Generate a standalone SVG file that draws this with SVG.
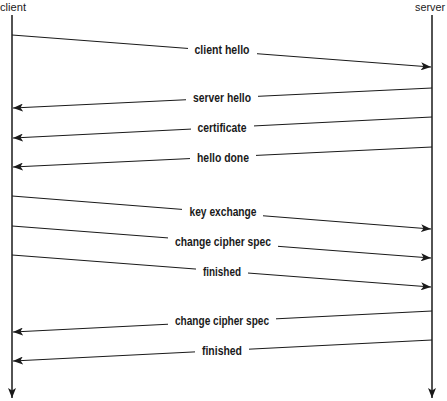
<svg xmlns="http://www.w3.org/2000/svg" width="447" height="401" viewBox="0 0 447 401">
<defs>
<marker id="ah" viewBox="0 0 10 8" refX="10" refY="4" markerWidth="10" markerHeight="8" markerUnits="userSpaceOnUse" orient="auto">
<path d="M0,0 L10,4 L0,8 L2.5,4 Z" fill="#1a1a1a"/>
</marker>
</defs>
<style>
.life{stroke:#1a1a1a;stroke-width:1.5;fill:none}
.msg{stroke:#1a1a1a;stroke-width:1.2;fill:none}
.bg{fill:#fff}
.lbl{font-family:"Liberation Sans",Arial,sans-serif;font-weight:bold;font-size:12px;fill:#1a1a1a;text-anchor:middle}
.hdr{font-family:"Liberation Sans",Arial,sans-serif;font-size:11px;fill:#1a1a1a}
</style>
<rect width="447" height="401" fill="#fff"/>
<g id="client">
<text class="hdr" x="0" y="11" textLength="26" lengthAdjust="spacingAndGlyphs">client</text>
<line class="life" x1="12" y1="15" x2="12" y2="398" marker-end="url(#ah)"/>
</g>
<g id="server">
<text class="hdr" x="445" y="11" text-anchor="end" textLength="30" lengthAdjust="spacingAndGlyphs">server</text>
<line class="life" x1="432" y1="15" x2="432" y2="398" marker-end="url(#ah)"/>
</g>
<g id="connectors">
<line class="msg" x1="12" y1="35" x2="431" y2="67" marker-end="url(#ah)"/>
<line class="msg" x1="432" y1="88" x2="13" y2="108" marker-end="url(#ah)"/>
<line class="msg" x1="432" y1="117" x2="13" y2="138" marker-end="url(#ah)"/>
<line class="msg" x1="432" y1="147" x2="13" y2="167" marker-end="url(#ah)"/>
<line class="msg" x1="12" y1="196" x2="431" y2="229" marker-end="url(#ah)"/>
<line class="msg" x1="12" y1="226" x2="431" y2="258" marker-end="url(#ah)"/>
<line class="msg" x1="12" y1="255" x2="431" y2="287" marker-end="url(#ah)"/>
<line class="msg" x1="432" y1="311" x2="13" y2="332" marker-end="url(#ah)"/>
<line class="msg" x1="432" y1="340" x2="13" y2="361" marker-end="url(#ah)"/>
</g>
<g id="labels">
<rect class="bg" x="188" y="42" width="69" height="14"/>
<text class="lbl" x="222" y="54" textLength="55" lengthAdjust="spacingAndGlyphs">client hello</text>
<rect class="bg" x="186" y="90" width="72" height="14"/>
<text class="lbl" x="222" y="102" textLength="58" lengthAdjust="spacingAndGlyphs">server hello</text>
<rect class="bg" x="191" y="120" width="63" height="14"/>
<text class="lbl" x="222" y="132" textLength="49" lengthAdjust="spacingAndGlyphs">certificate</text>
<rect class="bg" x="190" y="150" width="66" height="14"/>
<text class="lbl" x="223" y="162" textLength="52" lengthAdjust="spacingAndGlyphs">hello done</text>
<rect class="bg" x="182" y="204" width="81" height="14"/>
<text class="lbl" x="223" y="216" textLength="67" lengthAdjust="spacingAndGlyphs">key exchange</text>
<rect class="bg" x="168" y="234" width="110" height="14"/>
<text class="lbl" x="223" y="246" textLength="96" lengthAdjust="spacingAndGlyphs">change cipher spec</text>
<rect class="bg" x="196" y="264" width="52" height="14"/>
<text class="lbl" x="222" y="276" textLength="38" lengthAdjust="spacingAndGlyphs">finished</text>
<rect class="bg" x="168" y="313" width="108" height="14"/>
<text class="lbl" x="222" y="325" textLength="94" lengthAdjust="spacingAndGlyphs">change cipher spec</text>
<rect class="bg" x="195" y="343" width="54" height="14"/>
<text class="lbl" x="222" y="355" textLength="40" lengthAdjust="spacingAndGlyphs">finished</text>
</g>
</svg>
